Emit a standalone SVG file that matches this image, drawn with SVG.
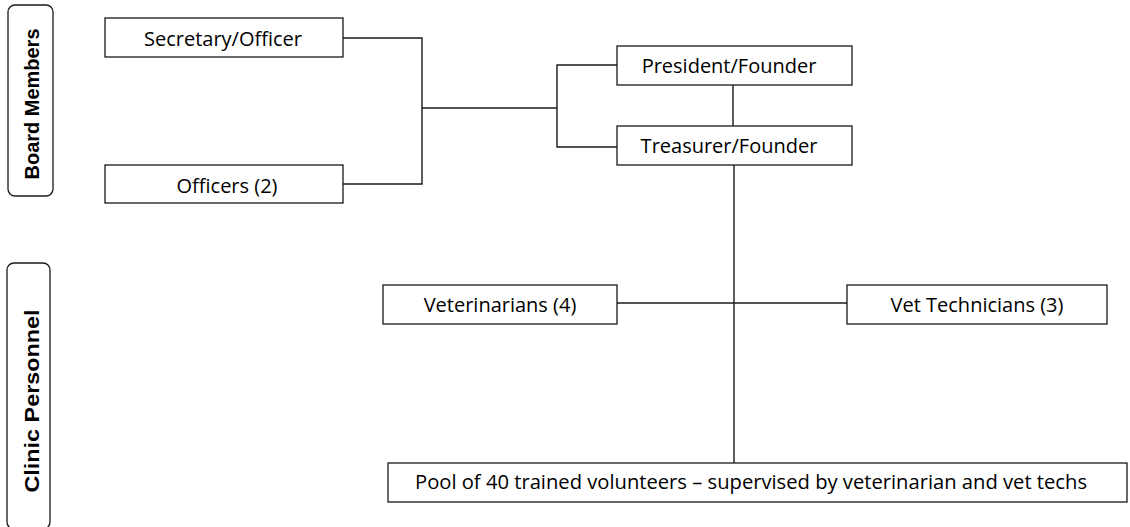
<svg xmlns="http://www.w3.org/2000/svg" width="1130" height="527" viewBox="0 0 1130 527">
<style>
.box{fill:#fff;stroke:#1a1a1a;stroke-width:1.3}
.lab{fill:#fff;stroke:#1a1a1a;stroke-width:1.3}
.t{font-family:"Open Sans","Liberation Sans",sans-serif;font-size:20px;fill:#000;text-anchor:middle}
.side{font-family:"Liberation Sans",Arial,sans-serif;font-weight:bold;font-size:21px;fill:#000;text-anchor:middle}
.c{fill:none;stroke:#1a1a1a;stroke-width:1.4}
</style>
<rect width="1130" height="527" fill="#fff"/>
<g id="connectors">
<polyline class="c" points="343,38 422,38 422,184 343,184"/>
<line class="c" x1="422" y1="108" x2="557" y2="108"/>
<polyline class="c" points="617,65 557,65 557,147 617,147"/>
<line class="c" x1="733" y1="85" x2="733" y2="126"/>
<line class="c" x1="734" y1="165" x2="734" y2="463"/>
<line class="c" x1="617" y1="303" x2="847" y2="303"/>
</g>
<g id="board-members">
<rect class="lab" x="8" y="5" width="45" height="191" rx="7"/>
<text class="side" transform="translate(39,104) rotate(-90)" textLength="151" lengthAdjust="spacingAndGlyphs">Board Members</text>
</g>
<g id="clinic-personnel">
<rect class="lab" x="7" y="263" width="43" height="266" rx="7"/>
<text class="side" transform="translate(38.5,401) rotate(-90)" textLength="183" lengthAdjust="spacingAndGlyphs">Clinic Personnel</text>
</g>
<g id="secretary">
<rect class="box" x="105" y="18" width="238" height="39"/>
<text class="t" x="223" y="45.5">Secretary/Officer</text>
</g>
<g id="officers">
<rect class="box" x="105" y="165" width="238" height="38"/>
<text class="t" x="227" y="192.5">Officers (2)</text>
</g>
<g id="president">
<rect class="box" x="617" y="46" width="235" height="39"/>
<text class="t" x="729" y="72.5">President/Founder</text>
</g>
<g id="treasurer">
<rect class="box" x="617" y="126" width="235" height="39"/>
<text class="t" x="729" y="152.5">Treasurer/Founder</text>
</g>
<g id="veterinarians">
<rect class="box" x="383" y="285" width="234" height="39"/>
<text class="t" x="500" y="311.5">Veterinarians (4)</text>
</g>
<g id="vet-technicians">
<rect class="box" x="847" y="285" width="260" height="39"/>
<text class="t" x="977" y="311.5">Vet Technicians (3)</text>
</g>
<g id="volunteers">
<rect class="box" x="388" y="463" width="739" height="39"/>
<text class="t" x="751" y="489" textLength="672" lengthAdjust="spacingAndGlyphs">Pool of 40 trained volunteers – supervised by veterinarian and vet techs</text>
</g>
</svg>
